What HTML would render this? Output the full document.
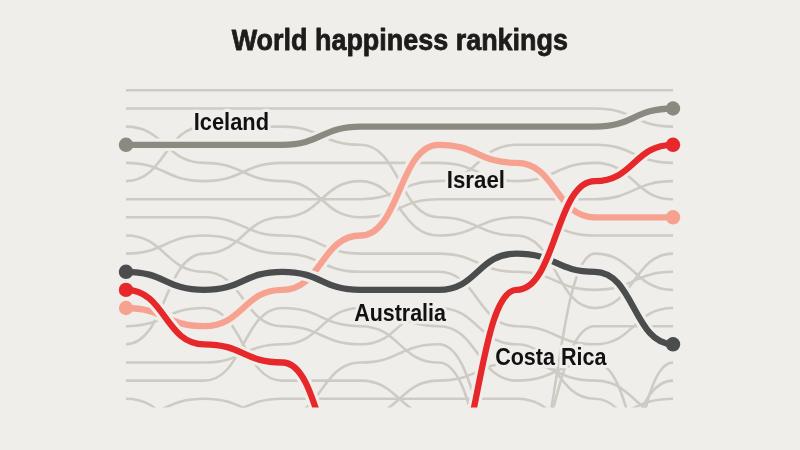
<!DOCTYPE html>
<html><head><meta charset="utf-8"><title>World happiness rankings</title>
<style>html,body{margin:0;padding:0;background:#f0eeea;width:800px;height:450px;overflow:hidden}svg{display:block;will-change:transform}</style>
</head><body>
<svg width="800" height="450" viewBox="0 0 800 450">
<rect width="800" height="450" fill="#f0eeea"/>
<defs><clipPath id="c"><rect x="0" y="0" width="800" height="407.6"/></clipPath></defs>
<g clip-path="url(#c)" fill="none" stroke-linecap="butt">
<path d="M126.0,90.3H204.1H282.3H360.4H438.6H516.7H594.9H673.0" stroke="#cdcbc4" stroke-width="2.6"/>
<path d="M126.0,108.5H204.1H282.3H360.4H438.6H516.7H594.9C633.9,108.5 633.9,126.6 673.0,126.6" stroke="#cdcbc4" stroke-width="2.6"/>
<path d="M126.0,126.6C165.1,126.6 165.1,162.9 204.1,162.9C243.2,162.9 243.2,181.1 282.3,181.1C321.4,181.1 321.4,217.3 360.4,217.3C399.5,217.3 399.5,199.2 438.6,199.2H516.7H594.9C633.9,199.2 633.9,181.1 673.0,181.1" stroke="#cdcbc4" stroke-width="2.6"/>
<path d="M126.0,162.9C165.1,162.9 165.1,181.1 204.1,181.1C243.2,181.1 243.2,162.9 282.3,162.9H360.4H438.6C477.6,162.9 477.6,181.1 516.7,181.1C555.8,181.1 555.8,162.9 594.9,162.9C633.9,162.9 633.9,199.2 673.0,199.2" stroke="#cdcbc4" stroke-width="2.6"/>
<path d="M126.0,181.1C165.1,181.1 165.1,126.6 204.1,126.6H282.3C321.4,126.6 321.4,144.8 360.4,144.8C399.5,144.8 399.5,217.3 438.6,217.3C477.6,217.3 477.6,235.5 516.7,235.5C555.8,235.5 555.8,308.0 594.9,308.0C633.9,308.0 633.9,253.6 673.0,253.6" stroke="#cdcbc4" stroke-width="2.6"/>
<path d="M126.0,199.2H204.1H282.3H360.4C399.5,199.2 399.5,181.1 438.6,181.1C477.6,181.1 477.6,144.8 516.7,144.8H594.9C633.9,144.8 633.9,162.9 673.0,162.9" stroke="#cdcbc4" stroke-width="2.6"/>
<path d="M126.0,217.3H204.1C243.2,217.3 243.2,235.5 282.3,235.5C321.4,235.5 321.4,253.6 360.4,253.6H438.6C477.6,253.6 477.6,271.8 516.7,271.8C555.8,271.8 555.8,289.9 594.9,289.9C633.9,289.9 633.9,271.8 673.0,271.8" stroke="#cdcbc4" stroke-width="2.6"/>
<path d="M126.0,235.5C165.1,235.5 165.1,271.8 204.1,271.8C243.2,271.8 243.2,326.2 282.3,326.2C321.4,326.2 321.4,344.3 360.4,344.3C399.5,344.3 399.5,308.0 438.6,308.0C477.6,308.0 477.6,344.3 516.7,344.3C555.8,344.3 555.8,398.7 594.9,398.7C633.9,398.7 633.9,471.3 673.0,471.3" stroke="#cdcbc4" stroke-width="2.6"/>
<path d="M126.0,253.6C165.1,253.6 165.1,235.5 204.1,235.5C243.2,235.5 243.2,253.6 282.3,253.6C321.4,253.6 321.4,271.8 360.4,271.8H438.6C477.6,271.8 477.6,326.2 516.7,326.2C555.8,326.2 555.8,344.3 594.9,344.3C633.9,344.3 633.9,308.0 673.0,308.0" stroke="#cdcbc4" stroke-width="2.6"/>
<path d="M126.0,326.2C165.1,326.2 165.1,308.0 204.1,308.0C243.2,308.0 243.2,380.6 282.3,380.6H360.4C399.5,380.6 399.5,416.9 438.6,416.9" stroke="#cdcbc4" stroke-width="2.6"/>
<path d="M126.0,344.3C165.1,344.3 165.1,253.6 204.1,253.6C243.2,253.6 243.2,217.3 282.3,217.3C321.4,217.3 321.4,181.1 360.4,181.1C399.5,181.1 399.5,235.5 438.6,235.5C477.6,235.5 477.6,217.3 516.7,217.3C555.8,217.3 555.8,235.5 594.9,235.5H673.0" stroke="#cdcbc4" stroke-width="2.6"/>
<path d="M126.0,362.5H204.1C243.2,362.5 243.2,344.3 282.3,344.3C321.4,344.3 321.4,308.0 360.4,308.0C399.5,308.0 399.5,326.2 438.6,326.2C477.6,326.2 477.6,380.6 516.7,380.6C555.8,380.6 555.8,362.5 594.9,362.5C633.9,362.5 633.9,507.6 673.0,507.6" stroke="#cdcbc4" stroke-width="2.6"/>
<path d="M126.0,380.6H204.1C243.2,380.6 243.2,308.0 282.3,308.0C321.4,308.0 321.4,326.2 360.4,326.2C399.5,326.2 399.5,362.5 438.6,362.5C477.6,362.5 477.6,507.6 516.7,507.6C555.8,507.6 555.8,253.6 594.9,253.6C633.9,253.6 633.9,289.9 673.0,289.9" stroke="#cdcbc4" stroke-width="2.6"/>
<path d="M126.0,398.7C165.1,398.7 165.1,435.0 204.1,435.0" stroke="#cdcbc4" stroke-width="2.6"/>
<path d="M126.0,416.9C165.1,416.9 165.1,398.7 204.1,398.7C243.2,398.7 243.2,416.9 282.3,416.9C321.4,416.9 321.4,362.5 360.4,362.5C399.5,362.5 399.5,344.3 438.6,344.3C477.6,344.3 477.6,471.3 516.7,471.3C555.8,471.3 555.8,326.2 594.9,326.2H673.0" stroke="#cdcbc4" stroke-width="2.6"/>
<path d="M204.1,416.9C243.2,416.9 243.2,398.7 282.3,398.7H360.4H438.6H516.7C555.8,398.7 555.8,435.0 594.9,435.0" stroke="#cdcbc4" stroke-width="2.6"/>
<path d="M360.4,416.9C399.5,416.9 399.5,380.6 438.6,380.6C477.6,380.6 477.6,362.5 516.7,362.5C555.8,362.5 555.8,380.6 594.9,380.6C633.9,380.6 633.9,416.9 673.0,416.9" stroke="#cdcbc4" stroke-width="2.6"/>
<path d="M594.9,416.9C633.9,416.9 633.9,398.7 673.0,398.7" stroke="#cdcbc4" stroke-width="2.6"/>
<path d="M594.9,471.3C633.9,471.3 633.9,380.6 673.0,380.6" stroke="#cdcbc4" stroke-width="2.6"/>
<path d="M594.9,562.0C633.9,562.0 633.9,362.5 673.0,362.5" stroke="#cdcbc4" stroke-width="2.6"/>
<path d="M126.0,144.8H204.1H282.3C321.4,144.8 321.4,126.6 360.4,126.6H438.6H516.7H594.9C633.9,126.6 633.9,108.5 673.0,108.5" stroke="#f0eeea" stroke-width="12.6"/>
<path d="M126.0,144.8H204.1H282.3C321.4,144.8 321.4,126.6 360.4,126.6H438.6H516.7H594.9C633.9,126.6 633.9,108.5 673.0,108.5" stroke="#8a8a81" stroke-width="6.3"/>
<circle cx="126.0" cy="144.8" r="7.2" fill="#8a8a81"/>
<circle cx="673.0" cy="108.5" r="7.2" fill="#8a8a81"/>
<path d="M126.0,308.0C165.1,308.0 165.1,326.2 204.1,326.2C243.2,326.2 243.2,289.9 282.3,289.9C321.4,289.9 321.4,235.5 360.4,235.5C399.5,235.5 399.5,144.8 438.6,144.8C477.6,144.8 477.6,162.9 516.7,162.9C555.8,162.9 555.8,217.3 594.9,217.3H673.0" stroke="#f0eeea" stroke-width="12.6"/>
<path d="M126.0,308.0C165.1,308.0 165.1,326.2 204.1,326.2C243.2,326.2 243.2,289.9 282.3,289.9C321.4,289.9 321.4,235.5 360.4,235.5C399.5,235.5 399.5,144.8 438.6,144.8C477.6,144.8 477.6,162.9 516.7,162.9C555.8,162.9 555.8,217.3 594.9,217.3H673.0" stroke="#f7a291" stroke-width="6.3"/>
<circle cx="126.0" cy="308.0" r="7.2" fill="#f7a291"/>
<circle cx="673.0" cy="217.3" r="7.2" fill="#f7a291"/>
<path d="M126.0,271.8C165.1,271.8 165.1,289.9 204.1,289.9C243.2,289.9 243.2,271.8 282.3,271.8C321.4,271.8 321.4,289.9 360.4,289.9H438.6C477.6,289.9 477.6,253.6 516.7,253.6C555.8,253.6 555.8,271.8 594.9,271.8C633.9,271.8 633.9,344.3 673.0,344.3" stroke="#f0eeea" stroke-width="12.6"/>
<path d="M126.0,271.8C165.1,271.8 165.1,289.9 204.1,289.9C243.2,289.9 243.2,271.8 282.3,271.8C321.4,271.8 321.4,289.9 360.4,289.9H438.6C477.6,289.9 477.6,253.6 516.7,253.6C555.8,253.6 555.8,271.8 594.9,271.8C633.9,271.8 633.9,344.3 673.0,344.3" stroke="#4a4c4e" stroke-width="6.3"/>
<circle cx="126.0" cy="271.8" r="7.2" fill="#4a4c4e"/>
<circle cx="673.0" cy="344.3" r="7.2" fill="#4a4c4e"/>
<path d="M126.0,289.9C165.1,289.9 165.1,344.3 204.1,344.3C243.2,344.3 243.2,362.5 282.3,362.5C321.4,362.5 321.4,489.4 360.4,489.4H438.6C477.6,489.4 477.6,289.9 516.7,289.9C555.8,289.9 555.8,181.1 594.9,181.1C633.9,181.1 633.9,144.8 673.0,144.8" stroke="#f0eeea" stroke-width="12.6"/>
<path d="M126.0,289.9C165.1,289.9 165.1,344.3 204.1,344.3C243.2,344.3 243.2,362.5 282.3,362.5C321.4,362.5 321.4,489.4 360.4,489.4H438.6C477.6,489.4 477.6,289.9 516.7,289.9C555.8,289.9 555.8,181.1 594.9,181.1C633.9,181.1 633.9,144.8 673.0,144.8" stroke="#e7282a" stroke-width="6.3"/>
<circle cx="126.0" cy="289.9" r="7.2" fill="#e7282a"/>
<circle cx="673.0" cy="144.8" r="7.2" fill="#e7282a"/>
</g>
<text x="193.72" y="129.72" textLength="75.28" lengthAdjust="spacingAndGlyphs" font-family="'Liberation Sans', Arial, sans-serif" font-weight="bold" font-size="23.80" fill="#111111" stroke="#f0eeea" stroke-width="6.5" stroke-linejoin="round" paint-order="stroke">Iceland</text>
<text x="446.79" y="188.18" textLength="58.21" lengthAdjust="spacingAndGlyphs" font-family="'Liberation Sans', Arial, sans-serif" font-weight="bold" font-size="23.80" fill="#111111" stroke="#f0eeea" stroke-width="6.5" stroke-linejoin="round" paint-order="stroke">Israel</text>
<text x="354.14" y="320.82" textLength="91.86" lengthAdjust="spacingAndGlyphs" font-family="'Liberation Sans', Arial, sans-serif" font-weight="bold" font-size="23.80" fill="#111111" stroke="#f0eeea" stroke-width="6.5" stroke-linejoin="round" paint-order="stroke">Australia</text>
<text x="495.16" y="365.00" textLength="111.31" lengthAdjust="spacingAndGlyphs" font-family="'Liberation Sans', Arial, sans-serif" font-weight="bold" font-size="23.80" fill="#111111" stroke="#f0eeea" stroke-width="6.5" stroke-linejoin="round" paint-order="stroke">Costa Rica</text>
<text x="231.67" y="49.80" textLength="336.30" lengthAdjust="spacingAndGlyphs" font-family="'Liberation Sans', Arial, sans-serif" font-weight="bold" font-size="29.20" fill="#1d1c1a" stroke="#1d1c1a" stroke-width="0.80" stroke-linejoin="round">World happiness rankings</text>
</svg>
</body></html>
